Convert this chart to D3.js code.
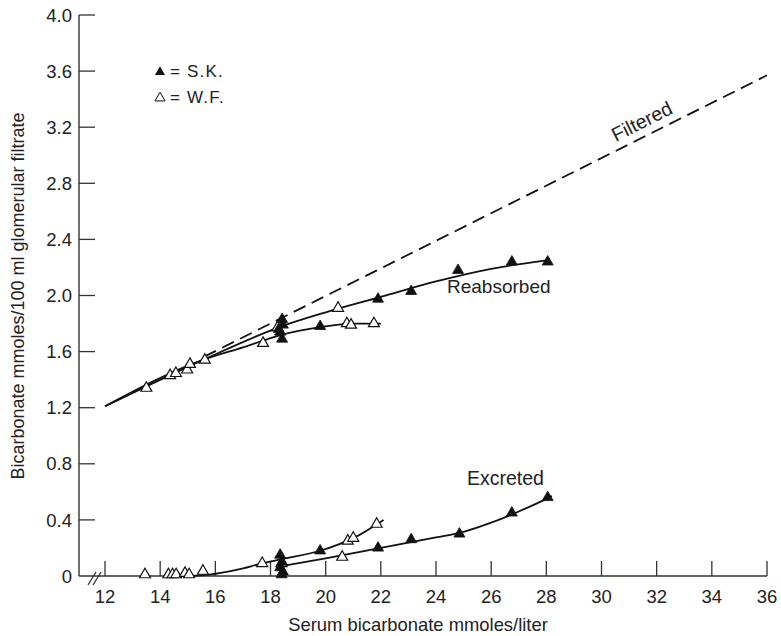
<!DOCTYPE html>
<html>
<head>
<meta charset="utf-8">
<script src="https://cdn.jsdelivr.net/npm/d3@7"></script>
<style>
  body { margin: 0; background: #fff; }
  svg { font-family: "Liberation Sans", Arial, sans-serif; fill: #222; }
</style>
</head>
<body>
<div id="chart"></div>
<script>

// data (serum bicarbonate, mmoles/100 ml filtrate)
var xTicks = [12, 14, 16, 18, 20, 22, 24, 26, 28, 30, 32, 34, 36];
var yTicks = [0, 0.4, 0.8, 1.2, 1.6, 2.0, 2.4, 2.8, 3.2, 3.6, 4.0];

// S.K. (filled triangles)
var skReabX = [18.3, 18.42, 18.45, 18.35, 18.42, 19.8, 21.9, 23.1, 24.8, 26.75, 28.05];
var skReabY = [1.76, 1.83, 1.79, 1.74, 1.69, 1.78, 1.975, 2.03, 2.18, 2.24, 2.24];
var skExcX = [18.35, 18.42, 18.35, 18.45, 18.4, 19.8, 21.9, 23.1, 24.85, 26.75, 28.05];
var skExcY = [0.15, 0.1, 0.06, 0.03, 0.01, 0.18, 0.2, 0.26, 0.3, 0.45, 0.56];

// W.F. (open triangles)
var wfReabX = [13.5, 14.36, 14.57, 14.98, 15.08, 15.62, 17.73, 18.25, 20.45, 20.77, 20.92, 21.75];
var wfReabY = [1.34, 1.43, 1.445, 1.47, 1.51, 1.54, 1.66, 1.77, 1.91, 1.8, 1.79, 1.8];
var wfExcX = [13.45, 14.3, 14.45, 14.58, 14.9, 15.05, 15.55, 17.7, 18.4, 20.6, 20.8, 21.0, 21.85];
var wfExcY = [0.01, 0.01, 0.01, 0.01, 0.02, 0.01, 0.035, 0.09, 0.09, 0.135, 0.25, 0.27, 0.37];

// hand-drawn fitted curves
var filteredX = [15.6, 36];
var filteredY = [1.564, 3.57];
var reabUpperX = [12, 15.6, 18.4, 20, 22, 24, 26, 28];
var reabUpperY = [1.21, 1.545, 1.78, 1.88, 1.99, 2.1, 2.19, 2.25];
var reabLowerX = [12, 15.6, 17, 18.4, 19.8, 21, 22];
var reabLowerY = [1.21, 1.545, 1.63, 1.72, 1.775, 1.8, 1.8];
var excUpperX = [15.1, 15.8, 16.8, 17.7, 18.4, 19.8, 21, 22.1];
var excUpperY = [0, 0.01, 0.045, 0.09, 0.12, 0.18, 0.27, 0.4];
var excLowerX = [18.4, 20, 22, 24, 25, 26, 27, 28, 28.2];
var excLowerY = [0.07, 0.125, 0.2, 0.275, 0.315, 0.38, 0.46, 0.55, 0.57];

var width = 781, height = 636;
var svg, x, y, line, tri;

function zip(xs, ys) {
  return xs.map(function (v, i) { return [v, ys[i]]; });
}

svg = d3.select('#chart').append('svg')
  .attr('width', width)
  .attr('height', height);

x = d3.scaleLinear().domain([12, 36]).range([105, 767]);
y = d3.scaleLinear().domain([0, 4]).range([576, 15]);

//axes, ticks point inward
var axisColor = '#333';
var axisX0 = 79;

svg.append('line')
  .attr('x1', axisX0).attr('x2', axisX0)
  .attr('y1', y(4)).attr('y2', y(0))
  .attr('stroke', axisColor).attr('stroke-width', 1.4);

svg.append('line')
  .attr('x1', axisX0).attr('x2', x(36))
  .attr('y1', y(0)).attr('y2', y(0))
  .attr('stroke', axisColor).attr('stroke-width', 1.4);

svg.selectAll('line.ytick')
  .data(yTicks.filter(function (d) { return d > 0; }))
  .enter().append('line')
  .attr('class', 'ytick')
  .attr('x1', axisX0).attr('x2', axisX0 + 16)
  .attr('y1', function (d) { return y(d); })
  .attr('y2', function (d) { return y(d); })
  .attr('stroke', axisColor).attr('stroke-width', 1.3);

svg.selectAll('text.ylab')
  .data(yTicks)
  .enter().append('text')
  .attr('class', 'ylab')
  .attr('x', 72)
  .attr('y', function (d) { return y(d); })
  .attr('dy', '0.36em')
  .attr('text-anchor', 'end')
  .style('font-size', '18.5px')
  .text(function (d) { return d === 0 ? '0' : d3.format('.1f')(d); });

svg.selectAll('line.xtick')
  .data(xTicks)
  .enter().append('line')
  .attr('class', 'xtick')
  .attr('x1', function (d) { return x(d); })
  .attr('x2', function (d) { return x(d); })
  .attr('y1', y(0)).attr('y2', y(0) - 15)
  .attr('stroke', axisColor).attr('stroke-width', 1.3);

svg.selectAll('text.xlab')
  .data(xTicks)
  .enter().append('text')
  .attr('class', 'xlab')
  .attr('x', function (d) { return x(d); })
  .attr('y', 603)
  .attr('text-anchor', 'middle')
  .style('font-size', '18.5px')
  .text(function (d) { return d; });

//axis break marks
[0, 5].forEach(function (off) {
  svg.append('line')
    .attr('x1', 88 + off).attr('y1', y(0) + 9)
    .attr('x2', 96 + off).attr('y2', y(0) - 4)
    .attr('stroke', axisColor).attr('stroke-width', 1.3);
});

//axis titles
svg.append('text')
  .attr('x', 418)
  .attr('y', 631)
  .attr('text-anchor', 'middle')
  .style('font-size', '18.4px')
  .text('Serum bicarbonate mmoles/liter');

svg.append('text')
  .attr('transform', 'translate(24,' + 296 + ') rotate(-90)')
  .attr('text-anchor', 'middle')
  .style('font-size', '18px')
  .text('Bicarbonate mmoles/100 ml glomerular filtrate');

//curves
line = d3.line()
  .x(function (d) { return x(d[0]); })
  .y(function (d) { return y(d[1]); })
  .curve(d3.curveMonotoneX);

svg.append('path')
  .attr('d', line(zip(filteredX, filteredY)))
  .attr('fill', 'none').attr('stroke', '#111')
  .attr('stroke-width', 1.8)
  .attr('stroke-dasharray', '13,7');

[[reabUpperX, reabUpperY], [reabLowerX, reabLowerY],
 [excUpperX, excUpperY], [excLowerX, excLowerY]].forEach(function (c) {
  svg.append('path')
    .attr('d', line(zip(c[0], c[1])))
    .attr('fill', 'none').attr('stroke', '#111')
    .attr('stroke-width', 1.8);
});

//triangles
tri = d3.symbol().type(d3.symbolTriangle).size(52);

function drawPoints(xs, ys, filled) {
  svg.append('g').selectAll('path')
    .data(zip(xs, ys))
    .enter().append('path')
    .attr('d', tri)
    .attr('transform', function (d) { return 'translate(' + x(d[0]) + ',' + y(d[1]) + ')'; })
    .attr('fill', filled ? '#111' : '#fff')
    .attr('stroke', '#111')
    .attr('stroke-width', filled ? 0.8 : 1.2);
}

drawPoints(wfReabX, wfReabY, false);
drawPoints(wfExcX, wfExcY, false);
drawPoints(skReabX, skReabY, true);
drawPoints(skExcX, skExcY, true);

//curve labels
var fx = 31.7;
var fy = filteredY[0] + (fx - filteredX[0]) * (filteredY[1] - filteredY[0]) / (filteredX[1] - filteredX[0]);
var angle = Math.atan2(y(filteredY[1]) - y(filteredY[0]), x(filteredX[1]) - x(filteredX[0])) * 180 / Math.PI;

svg.append('text')
  .attr('transform', 'translate(' + x(fx) + ',' + y(fy) + ') rotate(' + angle + ')')
  .attr('dy', -8)
  .attr('text-anchor', 'middle')
  .style('font-size', '19.5px')
  .text('Filtered');

svg.append('text')
  .attr('x', 447).attr('y', 293)
  .style('font-size', '19px')
  .text('Reabsorbed');

svg.append('text')
  .attr('x', 467).attr('y', 485)
  .style('font-size', '19.5px')
  .text('Excreted');

//legend
var legTri = d3.symbol().type(d3.symbolTriangle).size(44);

svg.append('path')
  .attr('d', legTri)
  .attr('transform', 'translate(160,72)')
  .attr('fill', '#111');

svg.append('path')
  .attr('d', legTri)
  .attr('transform', 'translate(160,98)')
  .attr('fill', '#fff').attr('stroke', '#111').attr('stroke-width', 1);

svg.append('text')
  .attr('x', 170).attr('y', 77)
  .style('font-size', '17px')
  .style('letter-spacing', '1.2px')
  .text('= S.K.');

svg.append('text')
  .attr('x', 170).attr('y', 103)
  .style('font-size', '17px')
  .style('letter-spacing', '1.2px')
  .text('= W.F.');

</script>
</body>
</html>
